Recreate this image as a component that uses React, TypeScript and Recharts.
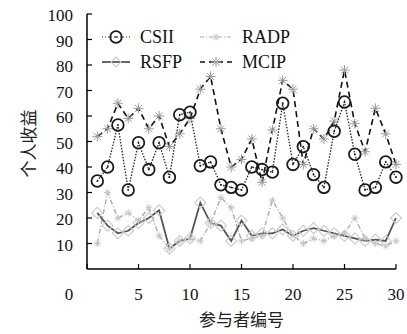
import { LineChart, Line, XAxis, YAxis, Legend } from 'recharts';

const participants = [
  1, 2, 3, 4, 5, 6, 7, 8, 9, 10, 11, 12, 13, 14, 15, 16, 17, 18, 19, 20, 21, 22, 23, 24, 25, 26, 27,
  28, 29, 30,
];
const csii = [
  34.5, 40, 56.5, 31, 49.5, 39, 49.5, 36, 60.5, 61.5, 40.5, 42, 33, 32, 31, 40, 39, 38, 65, 41, 48,
  37, 32, 54, 65.5, 45, 31, 32, 42, 36,
];
const radp = [10, 30, 20, 22, 19, 24, 13, 8, 11, 12, 11, 18, 28, 24, 11, 12, 13, 27, 20, 13, 10, 12, 11, 13, 14, 20, 12, 10, 9, 11];
const rsfp = [22, 17, 14, 15, 18, 20, 23, 8, 11, 12, 26, 18, 17, 11, 19, 13, 14, 14, 15.5, 13, 15, 16, 15, 14, 13, 12, 11, 11.5, 11, 20];
const mcip = [
  52, 55, 65, 59, 63, 55, 60, 48, 53, 59, 70.5, 75.5, 55, 40, 43, 51, 34, 54.5, 74, 70.5, 41, 55, 51,
  58, 78, 57, 46, 63, 53, 41,
];
const xTicks = [0, 5, 10, 15, 20, 25, 30];
const yTicks = [10, 20, 30, 40, 50, 60, 70, 80, 90, 100];

const data = participants.map((p, i) => ({
  p,
  CSII: csii[i],
  RADP: radp[i],
  RSFP: rsfp[i],
  MCIP: mcip[i],
}));

const serif = { fontFamily: "'Liberation Serif', 'Times New Roman', 'DejaVu Serif', serif" };
const cjk = { fontFamily: "'Noto Sans CJK SC', sans-serif" };

function circleMark(cx: number, cy: number, key?: any) {
  return (
    <g key={key}>
      <circle cx={cx} cy={cy} r={5.8} fill="none" stroke="#1a1a1a" strokeWidth={1.8} />
      <circle cx={cx} cy={cy} r={0.9} fill="#1a1a1a" />
    </g>
  );
}

function starMark(cx: number, cy: number, key?: any, color = '#9a9a9a', r = 5) {
  const d = r * 0.7;
  return (
    <g key={key} stroke={color} strokeWidth={1}>
      <line x1={cx - r} y1={cy} x2={cx + r} y2={cy} />
      <line x1={cx} y1={cy - r} x2={cx} y2={cy + r} />
      <line x1={cx - d} y1={cy - d} x2={cx + d} y2={cy + d} />
      <line x1={cx - d} y1={cy + d} x2={cx + d} y2={cy - d} />
    </g>
  );
}

function diamondMark(cx: number, cy: number, key?: any, color = '#c8c8c8', r = 5.5) {
  return (
    <path
      key={key}
      d={`M${cx},${cy - r}L${cx + r},${cy}L${cx},${cy + r}L${cx - r},${cy}Z`}
      fill="none"
      stroke={color}
      strokeWidth={1.2}
    />
  );
}

const CsiiDot = (props: any) => (props.cx == null ? null : circleMark(props.cx, props.cy, props.key));
const McipDot = (props: any) => (props.cx == null ? null : starMark(props.cx, props.cy, props.key));
const RsfpDot = (props: any) =>
  props.cx == null ? null : diamondMark(props.cx, props.cy, props.key, '#cccccc', 5.5);
const RadpDot = (props: any) =>
  props.cx == null ? null : starMark(props.cx, props.cy, props.key, '#c4c4c4', 3.5);

const BottomTick = ({ x, y, payload }: any) => (
  <g>
    <line x1={x} x2={x} y1={y} y2={y - 5} stroke="#000" strokeWidth={1.2} />
    <text
      x={payload.value === 0 ? x - 18 : x}
      y={y + 31}
      textAnchor="middle"
      fontSize={17}
      style={serif}
      fill="#111"
    >
      {payload.value}
    </text>
  </g>
);

const TopTick = ({ x, y }: any) => (
  <line x1={x} x2={x} y1={y} y2={y + 5} stroke="#000" strokeWidth={1.2} />
);

const LeftTick = ({ x, y, payload }: any) => (
  <g>
    <line x1={x} x2={x + 5} y1={y} y2={y} stroke="#000" strokeWidth={1.2} />
    <text x={x - 14} y={y + 7} textAnchor="end" fontSize={17} style={serif} fill="#111">
      {payload.value}
    </text>
  </g>
);

const RightTick = ({ x, y }: any) => (
  <line x1={x} x2={x - 5} y1={y} y2={y} stroke="#000" strokeWidth={1.2} />
);

const renderLegend = () => (
  <svg width={407} height={80} style={{ display: 'block' }}>
    <g>
      <line x1={102} x2={130} y1={37} y2={37} stroke="#222" strokeWidth={1.2} strokeDasharray="1 2" />
      {circleMark(116, 37)}
      <text x={140} y={43} fontSize={18} style={serif} fill="#111">CSII</text>
    </g>
    <g>
      <line x1={200} x2={232} y1={37} y2={37} stroke="#aaa" strokeWidth={1.2} strokeDasharray="4 2 1 2" />
      {starMark(216, 37, undefined, '#c4c4c4', 3.5)}
      <text x={242} y={43} fontSize={18} style={serif} fill="#111">RADP</text>
    </g>
    <g>
      <line x1={102} x2={130} y1={62} y2={62} stroke="#555" strokeWidth={1.8} />
      {diamondMark(116, 62, undefined, '#cccccc', 5)}
      <text x={140} y={68} fontSize={18} style={serif} fill="#111">RSFP</text>
    </g>
    <g>
      <line x1={200} x2={232} y1={62} y2={62} stroke="#111" strokeWidth={1.5} strokeDasharray="5 4" />
      {starMark(216, 62)}
      <text x={242} y={68} fontSize={18} style={serif} fill="#111">MCIP</text>
    </g>
  </svg>
);

export default function App() {
  return (
    <div style={{ position: 'absolute', left: 0, top: 0, width: 407, height: 334, background: '#fff' }}>
      <LineChart width={407} height={334} data={data} margin={{ top: 14, right: 11, bottom: 0, left: 0 }}>
        <XAxis
          dataKey="p"
          type="number"
          domain={[0, 30]}
          ticks={xTicks}
          height={65}
          tickSize={0}
          tickMargin={0}
          tickLine={false}
          axisLine={{ stroke: '#000', strokeWidth: 1.5 }}
          tick={<BottomTick />}
          interval={0}
          label={({ viewBox }: any) => (
            <text
              x={viewBox.x + viewBox.width / 2}
              y={326}
              textAnchor="middle"
              fontSize={17}
              style={cjk}
              fill="#222"
            >
              参与者编号
            </text>
          )}
        />
        <XAxis
          xAxisId="top"
          orientation="top"
          dataKey="p"
          type="number"
          domain={[0, 30]}
          ticks={[5, 10, 15, 20, 25]}
          height={0}
          tickSize={0}
          tickMargin={0}
          tickLine={false}
          axisLine={{ stroke: '#000', strokeWidth: 1.5 }}
          tick={<TopTick />}
          interval={0}
        />
        <YAxis
          type="number"
          domain={[0, 100]}
          ticks={yTicks}
          width={87}
          tickSize={0}
          tickMargin={0}
          tickLine={false}
          axisLine={{ stroke: '#000', strokeWidth: 1.5 }}
          tick={<LeftTick />}
          interval={0}
          label={({ viewBox }: any) => {
            const cy = viewBox.y + viewBox.height / 2 + 2;
            return (
              <text
                x={27}
                y={cy}
                transform={`rotate(-90 27 ${cy})`}
                textAnchor="middle"
                dominantBaseline="central"
                fontSize={17}
                style={cjk}
                fill="#222"
              >
                个人收益
              </text>
            );
          }}
        />
        <YAxis
          yAxisId="right"
          orientation="right"
          type="number"
          domain={[0, 100]}
          ticks={[10, 20, 30, 40, 50, 60, 70, 80, 90]}
          width={0}
          tickSize={0}
          tickMargin={0}
          tickLine={false}
          axisLine={{ stroke: '#000', strokeWidth: 1.5 }}
          tick={<RightTick />}
          interval={0}
        />
        <Legend
          content={renderLegend}
          layout="horizontal"
          verticalAlign="middle"
          align="center"
          wrapperStyle={{ position: 'absolute', left: 0, top: 0, width: 407, height: 80 }}
        />
        <Line
          dataKey="RADP"
          stroke="#a8a8a8"
          strokeWidth={1.3}
          strokeDasharray="5 2 1 2"
          dot={RadpDot}
          isAnimationActive={false}
        />
        <Line dataKey="RSFP" stroke="#555" strokeWidth={1.8} dot={RsfpDot} isAnimationActive={false} />
        <Line
          dataKey="MCIP"
          stroke="#111"
          strokeWidth={1.6}
          strokeDasharray="6 4"
          dot={McipDot}
          isAnimationActive={false}
        />
        <Line
          dataKey="CSII"
          stroke="#222"
          strokeWidth={1.3}
          strokeDasharray="1.5 1.5"
          dot={CsiiDot}
          isAnimationActive={false}
        />
      </LineChart>
    </div>
  );
}
